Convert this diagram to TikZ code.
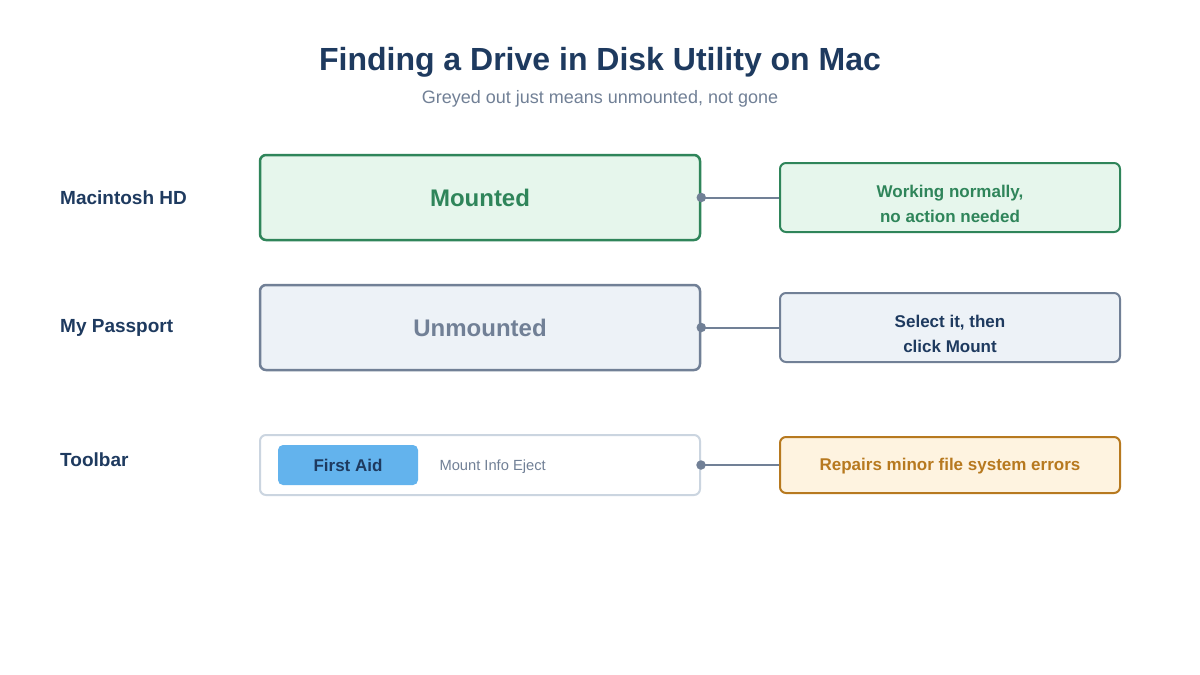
\documentclass[tikz,border=0pt]{standalone}
\usepackage{fontspec}
\setmainfont{Liberation Sans}
\definecolor{navy}{HTML}{1E3A5F}
\definecolor{slate}{HTML}{718096}
\definecolor{grn}{HTML}{2F855A}
\definecolor{grnfill}{HTML}{E6F6EC}
\definecolor{gryfill}{HTML}{EDF2F7}
\definecolor{lightbd}{HTML}{CBD5E0}
\definecolor{blu}{HTML}{63B3ED}
\definecolor{amb}{HTML}{B7791F}
\definecolor{ambfill}{HTML}{FEF3E0}
\tikzset{
  x=1pt,y=-1pt,
  rowlabel/.style={anchor=west,inner sep=0pt,font=\fontsize{19}{22}\selectfont\bfseries,text=navy},
  bigbox/.style={draw,rounded corners=6pt,line width=2.5pt,minimum width=440pt,minimum height=85pt,font=\fontsize{24}{28}\selectfont\bfseries},
  notebox/.style={draw,rounded corners=6pt,line width=2pt,minimum width=340pt},
  notetext/.style={font=\fontsize{17}{25}\selectfont\bfseries,align=center,inner sep=0pt},
  conn/.style={draw=slate,line width=2pt},
  dot/.style={circle,fill=slate,inner sep=0pt,minimum size=9.5pt}
}
\begin{document}
\begin{tikzpicture}
\useasboundingbox[fill=white] (0,0) rectangle (1200,675);
\node (title) at (600,62) {\fontsize{32}{38}\selectfont\bfseries\color{navy}Finding a Drive in Disk Utility on Mac};
\node (sub) at (600,99) {\fontsize{18}{22}\selectfont\color{slate}Greyed out just means unmounted, not gone};

\node[rowlabel] (l1) at (60,198) {Macintosh HD};
\node[rowlabel] (l2) at (60,328) {My Passport};
\node[rowlabel] (l3) at (60,460) {Toolbar};

\node[bigbox,draw=grn,fill=grnfill,text=grn] (b1) at (480,197.5) {Mounted};
\node[bigbox,draw=slate,fill=gryfill,text=slate] (b2) at (480,327.5) {Unmounted};
\node[draw=lightbd,fill=white,rounded corners=6pt,line width=2pt,minimum width=440pt,minimum height=60pt] (b3) at (480,465) {};
\node[fill=blu,rounded corners=5pt,minimum width=140pt,minimum height=40pt,font=\fontsize{17}{20}\selectfont\bfseries,text=navy] (fa) at (348,465) {First Aid};
\node[anchor=west,font=\fontsize{14.7}{18}\selectfont,text=slate] (mie) at (436,467) {Mount Info Eject};

\node[notebox,draw=grn,fill=grnfill,minimum height=69pt] (n1) at (950,197.5) {};
\node[notetext,text=grn] (t1) at (950,204) {Working normally,\\no action needed};
\node[notebox,draw=slate,fill=gryfill,minimum height=69pt] (n2) at (950,327.5) {};
\node[notetext,text=navy] (t2) at (950,334) {Select it, then\\click Mount};
\node[notebox,draw=amb,fill=ambfill,minimum height=56pt] (n3) at (950,465) {};
\node[notetext,text=amb] (t3) at (950,466.5) {Repairs minor file system errors};

\coordinate (c1) at (b1.east);
\coordinate (c2) at (b2.east);
\coordinate (c3) at (b3.east);
\draw[conn] (c1) -- (n1.west);
\draw[conn] (c2) -- (n2.west);
\draw[conn] (c3) -- (n3.west);
\node[dot] (d1) at (c1) {};
\node[dot] (d2) at (c2) {};
\node[dot] (d3) at (c3) {};
\end{tikzpicture}
\end{document}
